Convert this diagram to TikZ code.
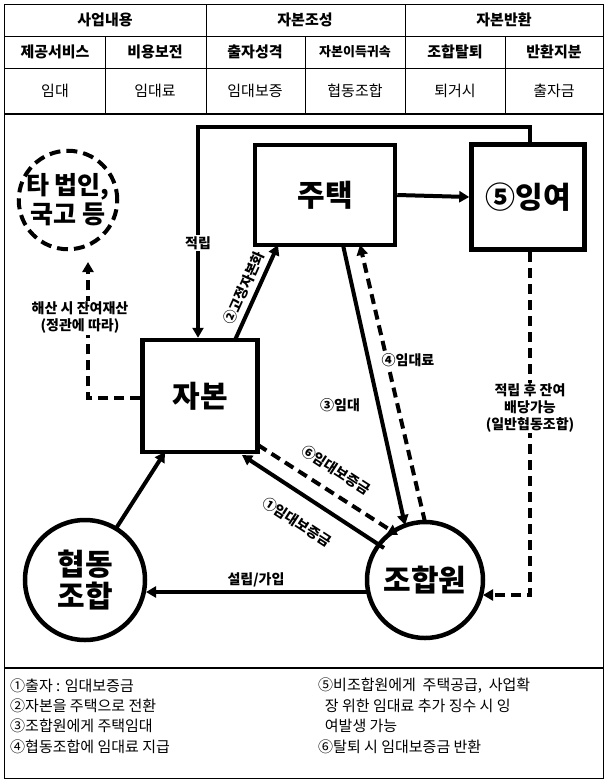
\documentclass[tikz,border=0pt]{standalone}
\usepackage{fontspec}
\setmainfont{Noto Sans CJK KR}
\usetikzlibrary{arrows.meta}
\begin{document}
\begin{tikzpicture}[x=1pt,y=-1pt,
  arr/.style={line width=4pt,-{Triangle[length=10pt,width=11pt]}},
  darr/.style={arr,dash pattern=on 10pt off 6pt},
  boxn/.style={draw,line width=4.5pt,inner sep=0},
  big/.style={font=\fontsize{30}{32}\selectfont\bfseries},
  lab/.style={font=\fontsize{14}{17}\selectfont\bfseries,fill=white,inner sep=1pt,align=center},
  hd/.style={font=\fontsize{15}{17}\selectfont\bfseries},
  cell/.style={font=\fontsize{15}{17}\selectfont},
  note/.style={font=\fontsize{15}{17}\selectfont,anchor=west,inner sep=0}]
\useasboundingbox (0,0) rectangle (607,782);
% table
\draw[line width=1pt] (4,4) rectangle (603,778);
\draw[line width=0.8pt] (4,36)--(603,36) (4,68)--(603,68);
\draw[line width=1.2pt] (4,114)--(603,114) (4,668)--(603,668);
\foreach \x in {206,405} \draw[line width=0.8pt] (\x,4)--(\x,114);
\foreach \x in {105,305,505} \draw[line width=0.8pt] (\x,36)--(\x,114);
\node[hd] (h1) at (105,20) {사업내용};
\node[hd] (h2) at (305,20) {자본조성};
\node[hd] (h3) at (504,20) {자본반환};
\node[hd] (s1) at (55,52) {제공서비스};
\node[hd] (s2) at (155,52) {비용보전};
\node[hd] (s3) at (255,52) {출자성격};
\node[hd,font=\fontsize{13}{15}\selectfont\bfseries] (s4) at (355,52) {자본이득귀속};
\node[hd] (s5) at (455,52) {조합탈퇴};
\node[hd] (s6) at (554,52) {반환지분};
\node[cell] (c1) at (55,91) {임대};
\node[cell] (c2) at (155,91) {임대료};
\node[cell] (c3) at (255,91) {임대보증};
\node[cell] (c4) at (355,91) {협동조합};
\node[cell] (c5) at (455,91) {퇴거시};
\node[cell] (c6) at (554,91) {출자금};
% nodes
\node[draw,circle,line width=4pt,dash pattern=on 11pt off 6pt,minimum size=96pt,font=\fontsize{25}{29}\selectfont\bfseries,align=center,inner sep=0] (ta) at (68,200) {타 법인,\\국고 등};
\node[boxn,minimum width=140pt,minimum height=100pt,big] (house) at (325,195) {주택};
\node[boxn,minimum width=113pt,minimum height=105pt,big] (surp) at (528,197) {⑤잉여};
\node[boxn,minimum width=115pt,minimum height=112pt,big] (cap) at (200,396) {자본};
\node[draw,circle,line width=4.5pt,minimum size=120pt,big,align=center,inner sep=0] (coop) at (85,580) {협동\\조합};
\node[draw,circle,line width=4.5pt,minimum size=116pt,big,inner sep=0] (mem) at (425,580) {조합원};
% connectors
\draw[arr] (house.east) -- (surp.west);
\coordinate (t1) at (530,127); \coordinate (t2) at (198,127);
\draw[arr] (surp.north -| t1) -- (t1) -- (t2) -- (t2 |- cap.north);
\node[lab] (l1) at (198,243) {적립};
\coordinate (d1) at (88,398);
\draw[darr] (cap.west |- d1) -- (d1) -- (88,262);
\node[lab] (l2) at (80,318) {해산 시 잔여재산\\(정관에 따라)};
\coordinate (e1) at (530,595);
\draw[darr] (surp.south -| e1) -- (e1) -- (483,595);
\node[lab] (l3) at (530,408) {적립 후 잔여\\배당가능\\(일반협동조합)};
\draw[arr] (115,530) -- (165,452);
\draw[arr] (367,592) -- (146,592);
\node[lab,fill=none] (l4) at (256,580) {설립/가입};
\draw[arr] (235,340) -- (278,245);
\node[lab,fill=none,rotate=66] (l5) at (244,288) {②고정자본화};
\draw[arr] (343,245) -- (405,525);
\node[lab,fill=none] (l6) at (340,405) {③임대};
\draw[darr] (425,522) -- (360,245);
\node[lab] (l7) at (408,360) {④임대료};
\draw[darr] (258,445) -- (398,535);
\node[lab,fill=none,rotate=-33] (l8) at (336,470) {⑥임대보증금};
\draw[arr] (384,548) -- (242,455);
\node[lab,fill=none,rotate=-33] (l9) at (297,522) {①임대보증금};
% notes
\node[note] (n1) at (10,686) {①출자 : 임대보증금};
\node[note] (n2) at (10,706) {②자본을 주택으로 전환};
\node[note] (n3) at (10,726) {③조합원에게 주택임대};
\node[note] (n4) at (10,747) {④협동조합에 임대료 지급};
\node[note] (n5) at (318,686) {⑤비조합원에게\ \ 주택공급,\ \ 사업확};
\node[note] (n6) at (318,706) {\ \ 장 위한 임대료 추가 징수 시 잉};
\node[note] (n7) at (318,726) {\ \ 여발생 가능};
\node[note] (n8) at (318,747) {⑥탈퇴 시 임대보증금 반환};
\end{tikzpicture}
\end{document}
